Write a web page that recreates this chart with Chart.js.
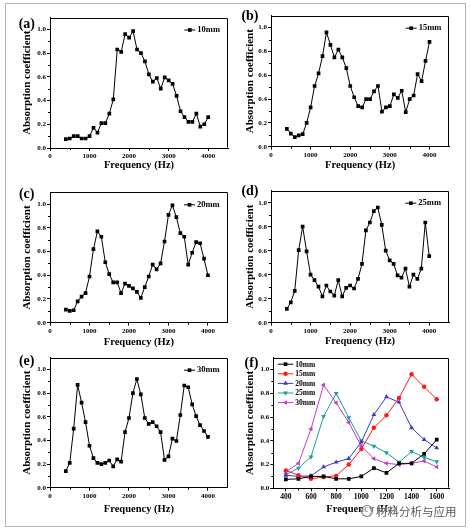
<!DOCTYPE html>
<html>
<head>
<meta charset="utf-8">
<script src="https://cdn.jsdelivr.net/npm/chart.js@4.4.1/dist/chart.umd.min.js"></script>
<style>
html,body{margin:0;padding:0;background:#fff;width:470px;height:531px;overflow:hidden;}
#frame{position:absolute;left:5px;top:3px;width:459px;height:522px;border:1px solid #b4b4b4;}
canvas{position:absolute;}
#wm{position:absolute;left:361px;top:503px;font-family:'Noto Sans CJK SC',sans-serif;font-size:11.5px;line-height:16px;color:rgba(70,70,70,0.9);text-shadow:0 0 2px #fff,0 0 2px #fff;white-space:nowrap;}
#wm .ic{display:inline-block;width:10px;height:10px;border:1px solid rgba(90,90,90,0.8);border-radius:50%;margin-right:3px;vertical-align:-1px;background:rgba(255,255,255,0.6);}
</style>
</head>
<body>
<div id="frame"></div>
<canvas id="pa"></canvas>
<canvas id="pb"></canvas>
<canvas id="pc"></canvas>
<canvas id="pd"></canvas>
<canvas id="pe"></canvas>
<canvas id="pf"></canvas>
<div id="wm"><span class="ic"></span>材料分析与应用</div>
<script>
// ---------------- data ----------------
const FREQ = [400,500,600,700,800,900,1000,1100,1200,1300,1400,1500,1600,1700,1800,1900,2000,2100,2200,2300,2400,2500,2600,2700,2800,2900,3000,3100,3200,3300,3400,3500,3600,3700,3800,3900,4000];
const ABS_10MM = [0.075,0.08,0.10,0.10,0.08,0.08,0.10,0.17,0.13,0.21,0.21,0.29,0.41,0.83,0.81,0.96,0.93,0.985,0.83,0.80,0.73,0.62,0.56,0.59,0.50,0.595,0.57,0.54,0.44,0.31,0.26,0.22,0.22,0.29,0.18,0.20,0.26];
const ABS_15MM = [0.15,0.11,0.08,0.095,0.105,0.20,0.33,0.51,0.615,0.76,0.96,0.855,0.75,0.815,0.75,0.66,0.51,0.415,0.34,0.33,0.40,0.40,0.465,0.51,0.295,0.33,0.34,0.44,0.41,0.47,0.29,0.40,0.43,0.61,0.55,0.72,0.88];
const ABS_20MM = [0.11,0.10,0.105,0.18,0.22,0.25,0.39,0.62,0.77,0.725,0.51,0.41,0.34,0.34,0.25,0.33,0.31,0.29,0.26,0.21,0.30,0.39,0.49,0.45,0.50,0.685,0.91,0.99,0.89,0.755,0.725,0.49,0.59,0.68,0.67,0.54,0.40];
const ABS_25MM = [0.115,0.17,0.265,0.605,0.80,0.595,0.40,0.355,0.30,0.22,0.31,0.26,0.225,0.355,0.22,0.29,0.31,0.285,0.365,0.49,0.77,0.835,0.93,0.96,0.815,0.60,0.52,0.49,0.395,0.375,0.45,0.30,0.40,0.365,0.45,0.835,0.555];
const ABS_30MM = [0.14,0.21,0.50,0.87,0.72,0.555,0.355,0.25,0.21,0.20,0.21,0.23,0.18,0.24,0.22,0.47,0.59,0.80,0.92,0.79,0.59,0.54,0.555,0.52,0.47,0.235,0.265,0.415,0.395,0.615,0.865,0.85,0.705,0.605,0.53,0.48,0.43];
const SERIES_NAMES = ['10mm','15mm','20mm','25mm','30mm'];
const PANEL_LABELS = ['(a)','(b)','(c)','(d)','(e)','(f)'];
const F_COUNT = 13; // panel (f) shows 400–1600 Hz

const X_TICKS = [0,1000,2000,3000,4000];
const X_MINOR = [500,1500,2500,3500];
const Y_TICKS = [0,0.2,0.4,0.6,0.8,1.0];
const Y_MINOR = [0.1,0.3,0.5,0.7,0.9];
const F_X_TICKS = [400,600,800,1000,1200,1400,1600];
const F_X_MINOR = [500,700,900,1100,1300,1500];

// ---------------- styling ----------------
const SERIF = "'Liberation Serif','Times New Roman',serif";
const F_COLORS = ['#000000','#ff1a1a','#3b3bc4','#1a9e9e','#c23ec2'];
const F_STYLES = [
  {pointStyle:'rect',radius:2.6,rotation:0},
  {pointStyle:'circle',radius:2.2,rotation:0},
  {pointStyle:'triangle',radius:2.8,rotation:0},
  {pointStyle:'triangle',radius:2.8,rotation:180},
  {pointStyle:'triangle',radius:2.8,rotation:270}
];

function pts(xs, ys){ return ys.map((v,i)=>({x:xs[i], y:v})); }

const decor = {
  id:'decor',
  afterDraw(chart, args, o){
    const ctx = chart.ctx;
    const {left,top,right,bottom} = chart.chartArea;
    const xs = chart.scales.x, ys = chart.scales.y;
    ctx.save();
    ctx.strokeStyle = '#000'; ctx.lineWidth = 1;
    // top and right frame lines
    const rL = Math.round(left)+0.5, rR = Math.round(right)-0.5, rT = Math.round(top)+0.5, rB = Math.round(bottom)-0.5;
    ctx.beginPath();
    ctx.moveTo(rL, rT); ctx.lineTo(rR, rT); ctx.lineTo(rR, rB);
    ctx.stroke();
    // minor ticks
    ctx.beginPath();
    (o.xMinor||[]).forEach(v=>{ const px = Math.round(xs.getPixelForValue(v))+0.5; ctx.moveTo(px, bottom); ctx.lineTo(px, bottom+2); });
    (o.yMinor||[]).forEach(v=>{ const py = Math.round(ys.getPixelForValue(v))+0.5; ctx.moveTo(left, py); ctx.lineTo(left-2, py); });
    ctx.stroke();
    // panel label
    ctx.fillStyle = '#000';
    ctx.font = 'bold 14px ' + SERIF;
    ctx.textAlign = 'right'; ctx.textBaseline = 'middle';
    ctx.fillText(o.label, o.labelX, o.labelY);
    // legend
    const dsets = chart.data.datasets;
    if (o.legendMode === 'single') {
      const ds = dsets[0];
      ctx.font = 'bold 8.5px ' + SERIF;
      const tw = ctx.measureText(ds.label).width;
      const ty = top + 12;
      const tx = right - 8 - tw;
      ctx.textAlign = 'left';
      ctx.fillText(ds.label, tx, ty);
      const lx1 = tx - 2, lx0 = lx1 - 11;
      ctx.beginPath(); ctx.moveTo(lx0, ty+0.5); ctx.lineTo(lx1, ty+0.5); ctx.stroke();
      ctx.fillStyle = '#000';
      Chart.helpers.drawPoint(ctx, {pointStyle:'rect', radius:2.6, rotation:0, borderWidth:0}, (lx0+lx1)/2, ty+0.5);
    } else {
      ctx.font = 'bold 7.5px ' + SERIF;
      ctx.textAlign = 'left';
      dsets.forEach((ds,i)=>{
        const y = top + 6.5 + i*9.6;
        const x0 = left + 4.5, x1 = left + 20;
        ctx.strokeStyle = ds.borderColor; ctx.fillStyle = ds.borderColor; ctx.lineWidth = 1;
        ctx.beginPath(); ctx.moveTo(x0, y); ctx.lineTo(x1, y); ctx.stroke();
        Chart.helpers.drawPoint(ctx, {pointStyle:ds.pointStyle, radius:ds.pointRadius, rotation:ds.pointRotation, borderWidth:0}, (x0+x1)/2, y);
        ctx.fillStyle = '#000';
        ctx.fillText(ds.label, left + 22, y + 0.5);
      });
    }
    ctx.restore();
  }
};

function panel(p){
  const cv = document.getElementById(p.id);
  cv.width = p.cw; cv.height = p.ch;
  cv.style.left = p.cx+'px'; cv.style.top = p.cy+'px';
  cv.style.width = p.cw+'px'; cv.style.height = p.ch+'px';
  const l = p.L - p.cx, t = p.T - p.cy, r = p.R - p.cx, b = p.B - p.cy;
  const xTitle = 10.5, yTitle = 11;
  const yPad = Math.max(0, (p.yTitleX - p.cx) - yTitle*1.2/2);
  const xPad = Math.max(0, p.ch - (p.xTitleY - p.cy) - xTitle*1.2/2);
  return new Chart(cv, {
    type:'line',
    data:{datasets:p.datasets},
    options:{
      responsive:false, animation:false, events:[],
      layout:{padding:{left:0, top:t, right:p.cw - r, bottom:0}},
      plugins:{
        legend:{display:false}, tooltip:{enabled:false},
        decor:{label:p.label, labelX:p.labelRight - p.cx, labelY:p.labelY - p.cy,
               legendMode:p.legendMode, xMinor:p.xMinor, yMinor:Y_MINOR}
      },
      scales:{
        x:{
          type:'linear', min:p.xMin, max:p.xMax,
          afterFit(s){ s.height = p.ch - b; },
          afterBuildTicks(s){ s.ticks = p.xTicks.map(v=>({value:v})); },
          ticks:{font:{family:SERIF, weight:'bold', size:p.xTickSize||7}, color:'#000', padding:1, maxRotation:0, autoSkip:false, callback:v=>String(v)},
          grid:{display:true, drawOnChartArea:false, drawTicks:true, tickLength:3, color:'#000', lineWidth:1},
          border:{display:true, color:'#000', width:1},
          title:{display:true, text:'Frequency (Hz)', color:'#000', font:{family:SERIF, weight:'bold', size:xTitle}, padding:{top:0, bottom:xPad}}
        },
        y:{
          type:'linear', min:0, max:1.1,
          afterFit(s){ s.width = l; },
          afterBuildTicks(s){ s.ticks = Y_TICKS.map(v=>({value:v})); },
          ticks:{font:{family:SERIF, weight:'bold', size:7}, color:'#000', padding:1, callback:v=>Number(v).toFixed(1)},
          grid:{display:true, drawOnChartArea:false, drawTicks:true, tickLength:3, color:'#000', lineWidth:1},
          border:{display:true, color:'#000', width:1},
          title:{display:true, text:'Absorption coefficient', color:'#000', font:{family:SERIF, weight:'bold', size:yTitle}, padding:{top:yPad, bottom:0}}
        }
      }
    },
    plugins:[decor]
  });
}

function singleSet(name, values){
  return [{label:name, data:pts(FREQ, values), borderColor:'#000', backgroundColor:'#000',
           borderWidth:1, pointStyle:'rect', pointRadius:2.6, pointBorderWidth:0, tension:0}];
}

const ALL = [ABS_10MM, ABS_15MM, ABS_20MM, ABS_25MM, ABS_30MM];
const fSets = ALL.map((vals,i)=>({
  label:SERIES_NAMES[i], data:pts(FREQ.slice(0,F_COUNT), vals.slice(0,F_COUNT)),
  borderColor:F_COLORS[i], backgroundColor:F_COLORS[i], borderWidth:1, tension:0,
  pointStyle:F_STYLES[i].pointStyle, pointRadius:F_STYLES[i].radius, pointRotation:F_STYLES[i].rotation, pointBorderWidth:0
}));

const common = {xMin:0, xMax:4500, xTicks:X_TICKS, xMinor:X_MINOR, legendMode:'single'};
panel(Object.assign({}, common, {id:'pa', cx:6, cy:4, cw:229, ch:168, L:50, T:17.5, R:228, B:148, yTitleX:27, xTitleY:165.7,
  label:PANEL_LABELS[0], labelRight:35, labelY:24, datasets:singleSet(SERIES_NAMES[0], ABS_10MM)}));
panel(Object.assign({}, common, {id:'pb', cx:236, cy:4, cw:228, ch:168, L:271, T:15.7, R:449.3, B:146.7, yTitleX:250, xTitleY:165.7,
  label:PANEL_LABELS[1], labelRight:258.5, labelY:16, datasets:singleSet(SERIES_NAMES[1], ABS_15MM)}));
panel(Object.assign({}, common, {id:'pc', cx:6, cy:172, cw:229, ch:178, L:50, T:192.3, R:227.7, B:322.7, yTitleX:27, xTitleY:342.5,
  label:PANEL_LABELS[2], labelRight:34.5, labelY:194, datasets:singleSet(SERIES_NAMES[2], ABS_20MM)}));
panel(Object.assign({}, common, {id:'pd', cx:236, cy:172, cw:228, ch:178, L:271, T:190.7, R:449, B:322.7, yTitleX:250, xTitleY:341.7,
  label:PANEL_LABELS[3], labelRight:258.5, labelY:191.7, datasets:singleSet(SERIES_NAMES[3], ABS_25MM)}));
panel(Object.assign({}, common, {id:'pe', cx:6, cy:350, cw:229, ch:176, L:50, T:357.7, R:227.7, B:487.7, yTitleX:27, xTitleY:509,
  label:PANEL_LABELS[4], labelRight:34.5, labelY:361.7, datasets:singleSet(SERIES_NAMES[4], ABS_30MM)}));
panel({id:'pf', cx:236, cy:350, cw:228, ch:176, L:273.3, T:357.7, R:449.3, B:488.3, yTitleX:250, xTitleY:509,
  xMin:300, xMax:1700, xTicks:F_X_TICKS, xMinor:F_X_MINOR, xTickSize:7.5, legendMode:'multi',
  label:PANEL_LABELS[5], labelRight:258.5, labelY:363, datasets:fSets});
</script>
</body>
</html>
